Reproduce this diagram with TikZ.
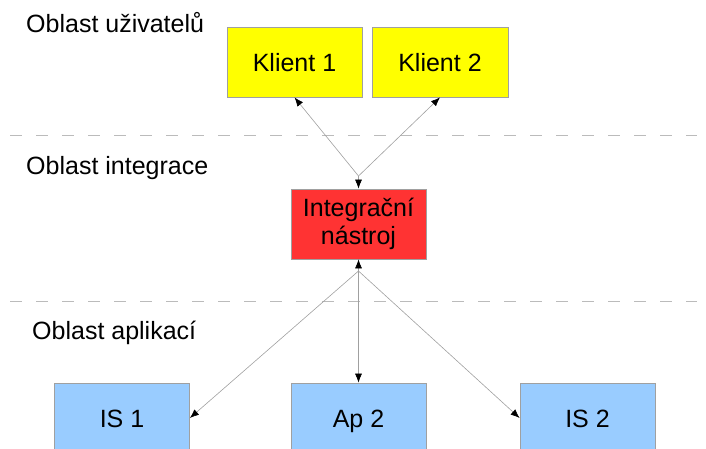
\documentclass[tikz,border=0pt]{standalone}
\usepackage{fontspec}
\setmainfont{Liberation Sans}
\usetikzlibrary{arrows.meta}
\definecolor{klient}{HTML}{FFFF00}
\definecolor{integ}{HTML}{FF3333}
\definecolor{app}{HTML}{99CCFF}
\definecolor{edge}{HTML}{A0A0A0}
\definecolor{sep}{HTML}{BBBBBB}
\tikzset{
  box/.style={draw=edge, line width=0.8pt, minimum width=135pt, minimum height=70pt,
    inner sep=0pt, align=center, font=\fontsize{25}{28}\selectfont},
  onerow/.style={text height=18pt, text depth=0pt},
  area/.style={anchor=base west, inner sep=0pt, font=\fontsize{25}{28}\selectfont},
  link/.style={draw=edge, line width=0.6pt, -{Latex[length=9pt,width=7pt,color=black]}},
  sepline/.style={draw=sep, line width=1pt, dash pattern=on 12pt off 14pt}
}
\begin{document}
\begin{tikzpicture}[x=1pt,y=-1pt]
\useasboundingbox (0,0) rectangle (706,448);
\clip (0,0) rectangle (706,448);
\node[area] (u) at (26,32) {Oblast uživatelů};
\node[area] (i) at (26,174) {Oblast integrace};
\node[area] (a) at (32,339) {Oblast aplikací};
\node[box,onerow,fill=klient] (k1) at (294.5,62) {Klient 1};
\node[box,onerow,fill=klient,minimum width=136pt] (k2) at (440,62) {Klient 2};
\node[box,fill=integ] (in) at (358.5,224) {Integrační\\nástroj};
\node[box,onerow,fill=app] (is1) at (122,418) {IS 1};
\node[box,onerow,fill=app] (ap2) at (358.5,418) {Ap 2};
\node[box,onerow,fill=app] (is2) at (587.5,418) {IS 2};
\coordinate (jt) at (358.5,176);
\coordinate (jb) at (358.5,271);
\path[sepline] (10,135) -- (697,135);
\path[sepline] (10,301) -- (697,301);
\path[link] (jt) -- (k1.south);
\path[link] (jt) -- (k2.south);
\path[link] (jt) -- (in.north);
\path[link] (jb) -- (in.south);
\path[link] (jb) -- (is1.east);
\path[link] (jb) -- (ap2.north);
\path[link] (jb) -- (is2.west);
\end{tikzpicture}
\end{document}
